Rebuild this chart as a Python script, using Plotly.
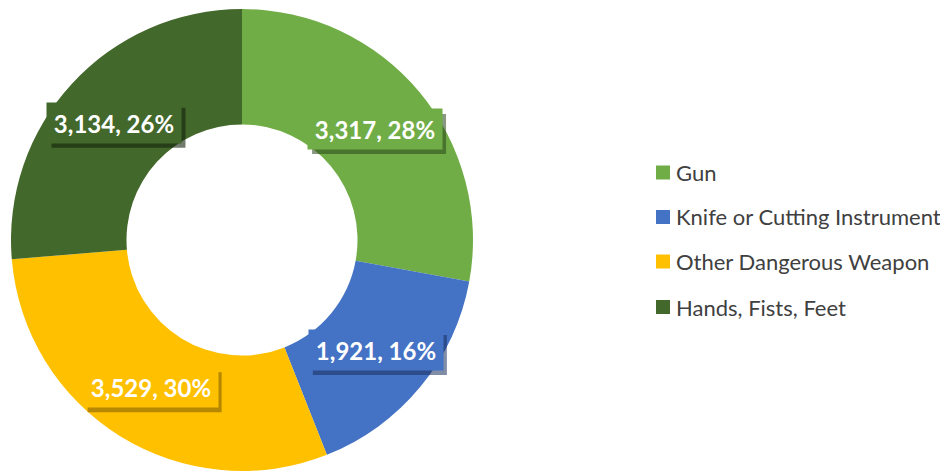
import math
import plotly.graph_objects as go

categories = ["Gun", "Knife or Cutting Instrument", "Other Dangerous Weapon", "Hands, Fists, Feet"]
values = [3317, 1921, 3529, 3134]
colors = ["#70AD47", "#4472C4", "#FFC000", "#43682B"]
shadow_colors = ["rgba(40,70,25,0.55)", "rgba(25,45,95,0.55)", "rgba(120,90,0,0.55)", "rgba(20,35,12,0.6)"]

# page has an 8px body margin; figure fills the rest of the 948x474 window
OFF = 8
W, H = 948 - OFF, 474 - OFF
cx, cy, R = 242 - OFF, 240 - OFF, 231
hole = 0.5
BOX_W, BOX_H, PAD = 120, 26, 7


def px_x(sx):
    return (sx - OFF) / W


def px_y(sy):
    return (H - (sy - OFF)) / H


fig = go.Figure()
fig.add_trace(go.Pie(
    labels=categories, values=values, hole=hole, sort=False,
    direction="clockwise", rotation=0,
    marker=dict(colors=colors, line=dict(width=0)),
    textinfo="none", hoverinfo="label+value+percent", showlegend=False,
    domain=dict(x=[(cx - R) / W, (cx + R) / W], y=[(H - cy - R) / H, (H - cy + R) / H]),
))

total = sum(values)
rmid = R * (1 + hole) / 2
cum = 0
annotations = []
shapes = []
for v, c, sc in zip(values, colors, shadow_colors):
    mid = (cum + v / 2) / total * 2 * math.pi
    cum += v
    fx = cx + rmid * math.sin(mid)
    fy = (H - cy) + rmid * math.cos(mid)
    text = f"<b>{v:,}, {round(v / total * 100)}%</b>"
    hw = BOX_W / 2 + PAD
    hh = BOX_H / 2 + PAD
    shapes.append(dict(type="rect", xref="paper", yref="paper", layer="above",
                       x0=(fx - hw + 4) / W, x1=(fx + hw + 4) / W,
                       y0=(fy - hh - 5) / H, y1=(fy + hh - 5) / H,
                       fillcolor=sc, line=dict(width=0)))
    annotations.append(dict(text=text, xref="paper", yref="paper", x=fx / W, y=fy / H,
                            showarrow=False, xanchor="center", yanchor="middle",
                            width=BOX_W, height=BOX_H, borderpad=PAD,
                            font=dict(family="Lato", size=24, color="white"), bgcolor=c))

# legend
leg_y = [172.5, 217, 261.5, 307]
for i, (lab, c) in enumerate(zip(categories, colors)):
    sy = leg_y[i]
    shapes.append(dict(type="rect", xref="paper", yref="paper",
                       x0=px_x(656), x1=px_x(670), y0=px_y(sy + 7), y1=px_y(sy - 7),
                       fillcolor=c, line=dict(width=0)))
    annotations.append(dict(text=lab, xref="paper", yref="paper", x=px_x(674), y=px_y(sy),
                            xanchor="left", yanchor="middle", showarrow=False,
                            font=dict(family="Lato", size=22, color="#404040")))

fig.update_layout(
    width=W, height=H, margin=dict(l=0, r=0, t=0, b=0),
    paper_bgcolor="white", plot_bgcolor="white",
    annotations=annotations, shapes=shapes, showlegend=False,
)
fig.write_html("out.html")
